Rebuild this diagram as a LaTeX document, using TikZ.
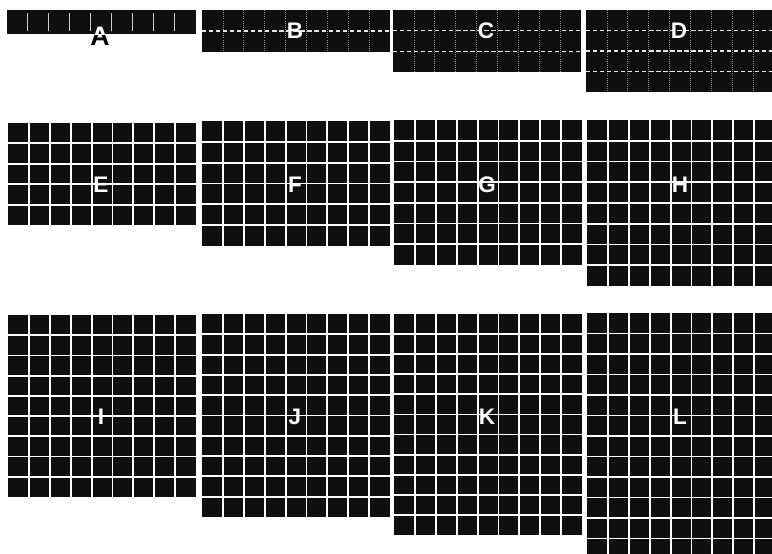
\documentclass[tikz,border=0pt]{standalone}
\usepackage{fontspec}
\setsansfont{Liberation Sans}
\usepackage{tikz}

\begin{document}
\begin{tikzpicture}[
  x=0.025cm, y=-0.025cm,
  panel/.style={fill=black!94},
  gridline/.style={white, line width=1.3pt},
  tickline/.style={white!80!black, line width=0.6pt},
  dimline/.style={white!55!black, line width=0.5pt, densely dotted},
  dotline/.style={white!90!black, line width=0.8pt, densely dashed},
  letter/.style={text=white, inner sep=0pt,
                 font=\sffamily\bfseries\fontsize{16}{16}\selectfont}
]
\clip (0,0) rectangle (772,554);
\fill[white] (0,0) rectangle (772,554);

\fill[panel] (7,10) rectangle ++(189,24);
\foreach \i in {1,...,8}
  \draw[tickline] (7+\i*20.9,13) -- ++(0,18);
\node[letter, text=black, font=\sffamily\bfseries\fontsize{19}{19}\selectfont] (A) at (100,36) {A};
\begin{scope}
  \clip (7,10) rectangle ++(189,24);
  \node[letter, font=\sffamily\bfseries\fontsize{19}{19}\selectfont] (Atop) at (A) {A};
\end{scope}

\foreach \lbl/\px/\n/\h in {B/202/2/42, C/393/3/62, D/586/4/82} {
  \fill[panel] (\px,10) rectangle ++(188,\h);
  \foreach \i in {1,...,8}
    \draw[dimline] (\px+\i*20.9,10) -- ++(0,\h);
  \pgfmathtruncatemacro\m{\n-1}
  \foreach \j in {1,...,\m}
    \draw[dotline] (\px,10+\j*\h/\n) -- ++(188,0);
  \node[letter] (\lbl) at (\px+93,31) {\lbl};
}

\foreach \lbl/\px/\py/\n/\h/\ly in {E/8/123/5/102/185, F/202/121/6/125/185,
    G/394/120/7/145/185, H/587/120/8/166/185, I/8/315/9/182/417,
    J/202/314/10/203/417, K/394/314/11/221/417, L/587/313/12/246/417} {
  \fill[panel] (\px,\py) rectangle ++(188,\h);
  \foreach \i in {1,...,8}
    \draw[gridline] (\px+\i*20.9,\py) -- ++(0,\h);
  \pgfmathtruncatemacro\m{\n-1}
  \foreach \j in {1,...,\m}
    \draw[gridline] (\px,\py+\j*\h/\n) -- ++(188,0);
  \node[letter] (\lbl) at (\px+93,\ly) {\lbl};
}
\end{tikzpicture}
\end{document}
